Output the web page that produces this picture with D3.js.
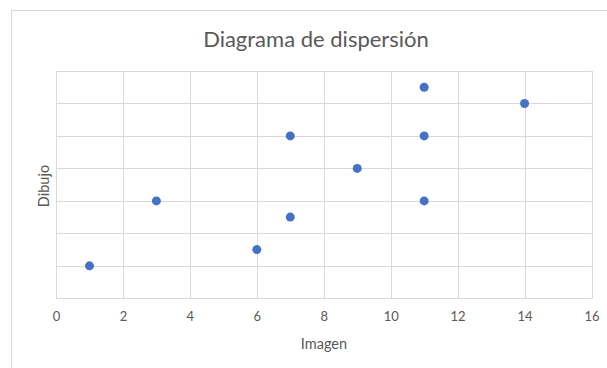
<!DOCTYPE html>
<html><head><meta charset="utf-8">
<script src="https://cdn.jsdelivr.net/npm/d3@7"></script>
<style>body{margin:0;background:#fff;}svg{display:block;}</style>
</head><body>
<script>
const title = "Diagrama de dispersión";
const xLabel = "Imagen";
const yLabel = "Dibujo";
const imagen = [1, 3, 6, 7, 7, 9, 11, 11, 11, 14];
const dibujo = [1, 3, 1.5, 2.5, 5, 4, 3, 5, 6.5, 6];
const xTicks = [0, 2, 4, 6, 8, 10, 12, 14, 16];
const yGrid = [0, 1, 2, 3, 4, 5, 6, 7];

const W = 607, H = 368;
const svg = d3.select("body").append("svg").attr("width", W).attr("height", H);
const font = "Lato, 'Open Sans', sans-serif";

svg.append("rect").attr("x", 11.5).attr("y", 10.5).attr("width", 700).attr("height", 500)
  .attr("fill", "#fff").attr("stroke", "#d9d9d9");

const x = d3.scaleLinear().domain([0, 16]).range([56, 591.5]);
const y = d3.scaleLinear().domain([0, 7]).range([298.3, 71]);

const g = svg.append("g");
g.selectAll("line.h").data(yGrid).join("line")
  .attr("x1", x(0)).attr("x2", x(16))
  .attr("y1", d => Math.round(y(d)) + 0.5).attr("y2", d => Math.round(y(d)) + 0.5)
  .attr("stroke", "#d9d9d9").attr("stroke-width", 1);
g.selectAll("line.v").data(xTicks).join("line")
  .attr("y1", y(0)).attr("y2", y(7))
  .attr("x1", d => Math.round(x(d)) + 0.5).attr("x2", d => Math.round(x(d)) + 0.5)
  .attr("stroke", "#d9d9d9").attr("stroke-width", 1);

const xAxis = d3.axisBottom(x).tickValues(xTicks).tickSize(0).tickPadding(13);
const ax = svg.append("g").attr("transform", `translate(0,${y(0)})`).call(xAxis);
ax.select(".domain").remove();
ax.selectAll("text").attr("fill", "#595959").style("font-family", font).style("font-size", "13px");

svg.selectAll("circle").data(imagen).join("circle")
  .attr("cx", (d, i) => x(d)).attr("cy", (d, i) => y(dibujo[i]))
  .attr("r", 4.5).attr("fill", "#4472C4");

svg.append("text").attr("x", 316).attr("y", 47).attr("text-anchor", "middle")
  .attr("fill", "#595959").style("font-family", font).style("font-size", "22px").text(title);
svg.append("text").attr("x", 324).attr("y", 349).attr("text-anchor", "middle")
  .attr("fill", "#595959").style("font-family", font).style("font-size", "14.5px").text(xLabel);
svg.append("text").attr("transform", "translate(49,186) rotate(-90)").attr("text-anchor", "middle")
  .attr("fill", "#595959").style("font-family", font).style("font-size", "14.5px").text(yLabel);
</script>
</body></html>
